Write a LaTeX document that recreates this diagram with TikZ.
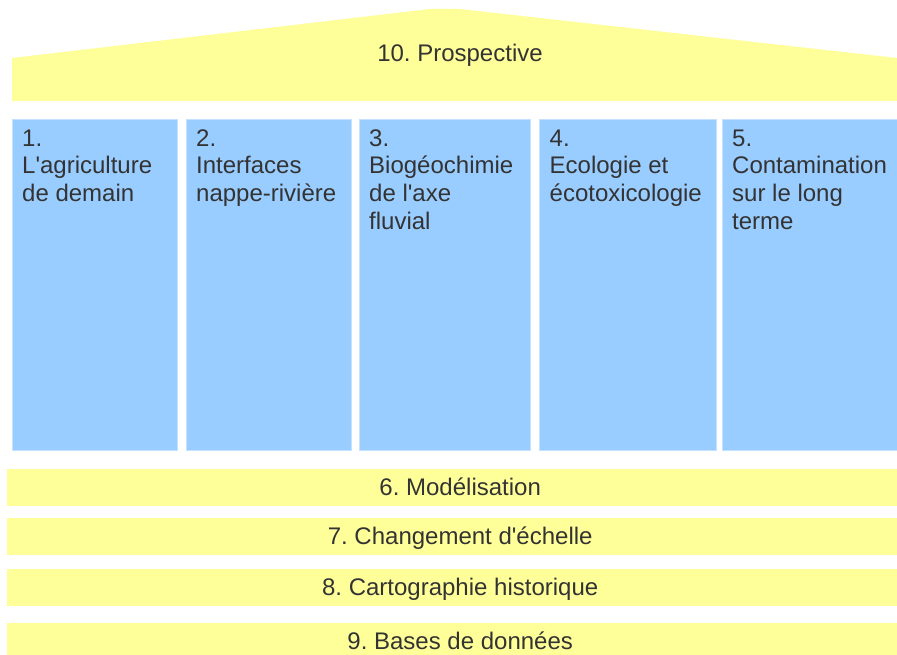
\documentclass[tikz,border=0pt]{standalone}
\usepackage{fontspec}
\setmainfont{Liberation Sans}
\frenchspacing
\definecolor{pillarblue}{HTML}{99CCFF}
\definecolor{pillaredge}{HTML}{C4E1FF}
\definecolor{roofyellow}{HTML}{FFFF99}
\definecolor{inkgrey}{HTML}{333333}
\newcommand{\ap}{\textquotesingle}
% a column of the house: name, left edge, width, text
\newcommand{\pillar}[4]{
 \node[pillar,minimum width=#3] (#1) at (#2,120) {};
 \node[pillartext] (#1text) at ([shift={(10,6.7)}]#1.north west) {\strut#4};
}

\begin{document}
\begin{tikzpicture}[x=1pt,y=-1pt]
    \tikzstyle{pillar} = [fill=pillarblue,draw=pillaredge,line width=1pt,anchor=north west,minimum height=330,inner sep=0,outer sep=0]
    \tikzstyle{pillartext} = [anchor=north west,align=left,inner sep=0,text=inkgrey,font=\fontsize{24}{27.6}\selectfont]
    \tikzstyle{beam} = [fill=roofyellow,anchor=west,minimum width=906,minimum height=37,inner sep=0,text height=18pt,text depth=3pt,text=inkgrey,font=\fontsize{24}{27.6}\selectfont]
    \tikzstyle{rooftext} = [anchor=base,inner sep=0,text=inkgrey,font=\fontsize{24}{27.6}\selectfont]

    \useasboundingbox (0,0) rectangle (897,655);
    \clip (0,0) rectangle (897,655);

    % roof
    \fill[roofyellow] (12,101) -- (12,58) -- (430,9) -- (460,9) -- (897,58) -- (897,101) -- cycle;
    \node[rooftext] (prospective) at (460,62) {10. Prospective};

    % columns
    \pillar{agri}{12}{165}{1.\\L\ap agriculture\\de demain}
    \pillar{nappe}{186}{165}{2.\\Interfaces\\nappe-rivière}
    \pillar{biogeo}{359}{171}{3.\\Biogéochimie\\de l\ap axe\\fluvial}
    \pillar{eco}{539.5}{177}{4.\\Ecologie et\\écotoxicologie}
    \pillar{contam}{722}{190}{5.\\Contamination\\sur le long\\terme}

    % foundations
    \node[beam] (modelisation) at (7,487.5) {6. Modélisation};
    \node[beam] (echelle) at (7,536.5) {7. Changement d\ap échelle};
    \node[beam] (cartographie) at (7,587.5) {8. Cartographie historique};
    \node[beam] (bases) at (7,641.5) {9. Bases de données};
\end{tikzpicture}
\end{document}
